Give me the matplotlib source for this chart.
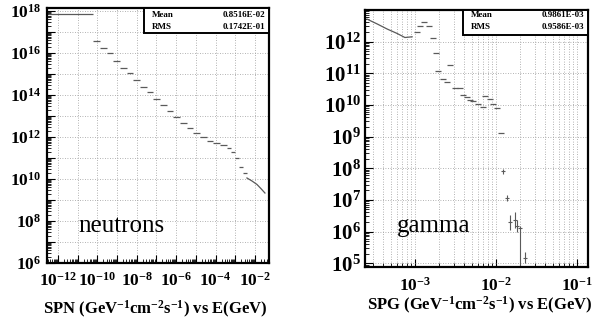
import numpy as np
import matplotlib
matplotlib.use("Agg")
import matplotlib.pyplot as plt
from matplotlib.ticker import LogLocator, FuncFormatter, NullFormatter
from matplotlib.patches import Rectangle

plt.rcParams['font.family'] = 'Liberation Serif'
plt.rcParams['mathtext.fontset'] = 'custom'
plt.rcParams['mathtext.rm'] = 'Liberation Serif:bold'
plt.rcParams['mathtext.bf'] = 'Liberation Serif:bold'
plt.rcParams['mathtext.it'] = 'Liberation Serif:italic:bold'
plt.rcParams['mathtext.default'] = 'bf'

# neutron spectrum: bin edges (GeV) and contents
neut_edges = [3.1e-13, 6.0e-11, 1.35e-10, 3.1e-10, 6.2e-10, 1.4e-9, 3.2e-9, 6.5e-9,
              1.45e-8, 3.3e-8, 6.6e-8, 1.5e-7, 3.4e-7, 6.9e-7, 1.55e-6, 3.5e-6,
              7.1e-6, 1.6e-5, 3.6e-5, 7.4e-5, 1.65e-4, 3.8e-4, 6.0e-4, 9.5e-4,
              1.55e-3, 2.45e-3, 3.9e-3]
neut_flux = [7.2e17, 3.9e16, 1.8e16, 9.8e15, 4.2e15, 2.0e15, 1.07e15, 5.1e14,
             2.5e14, 1.35e14, 6.3e13, 3.3e13, 1.74e13, 9.3e12, 4.5e12, 2.75e12,
             1.5e12, 1.02e12, 6.6e11, 5.4e11, 4.0e11, 2.9e11, 2.0e11, 9.8e10,
             3.9e10, 1.86e10]
neut_tail_e = [3.9e-3, 7.1e-3, 1.26e-2, 2.0e-2, 3.2e-2]
neut_tail_f = [1.12e10, 8.0e9, 5.5e9, 3.5e9, 2.15e9]

# gamma spectrum
gam_line_e = [2.55e-4, 3.4e-4, 4.5e-4, 6.0e-4, 7.5e-4, 9.2e-4]
gam_line_f = [5.1e12, 3.6e12, 2.5e12, 1.8e12, 1.34e12, 1.41e12]
gam_pts_e = [1.06e-3, 1.15e-3, 1.29e-3, 1.49e-3, 1.67e-3, 1.82e-3, 1.92e-3,
             2.22e-3, 2.48e-3, 2.7e-3, 3.1e-3, 3.6e-3, 3.9e-3, 4.4e-3, 4.8e-3,
             5.2e-3, 6.0e-3, 6.9e-3, 7.3e-3, 8.4e-3, 9.2e-3, 1.03e-2, 1.15e-2]
gam_pts_f = [2.07e12, 3.0e12, 4.0e12, 3.1e12, 1.31e12, 4.2e11, 1.15e11,
             6.8e10, 5.2e10, 1.87e11, 3.4e10, 3.3e10, 2.1e10, 1.8e10, 1.46e10,
             1.29e10, 1.09e10, 8.7e9, 1.94e10, 1.54e10, 1.09e10, 8.2e9, 1.32e9]
gam_err_e = [1.22e-2, 1.37e-2, 1.49e-2, 1.72e-2, 1.82e-2, 1.98e-2, 2.28e-2]
gam_err_f = [8.0e7, 1.15e7, 2.0e6, 2.3e6, 1.5e6, 1.3e6, 1.45e5]
gam_err_lo = [6.5e7, 9.5e6, 1.12e6, 1.3e6, 9.8e5, 1e3, 1.0e5]
gam_err_hi = [9.5e7, 1.4e7, 3.4e6, 4.2e6, 2.3e6, 1.5e6, 2.3e5]

W, H = 599, 324
fig = plt.figure(figsize=(W / 100, H / 100), dpi=100)
fig.patch.set_facecolor('white')

data_col = '#5a5a5a'
grid_kw = dict(color='#9a9a9a', linestyle=(0, (1, 2)), linewidth=0.6)


def px_axes(x0, y0, x1, y1):
    return fig.add_axes([x0 / W, 1 - y1 / H, (x1 - x0) / W, (y1 - y0) / H])


def even_fmt(v, pos):
    n = int(round(np.log10(v)))
    return r'$10^{%d}$' % n if n % 2 == 0 else ''


def all_fmt(v, pos):
    return r'$10^{%d}$' % int(round(np.log10(v)))


def style(ax):
    for s in ax.spines.values():
        s.set_linewidth(1.6)
    ax.tick_params(which='both', direction='in', top=False, right=False)
    ax.tick_params(which='major', length=6, width=0.8)
    ax.tick_params(which='minor', length=3, width=0.6)


def stats_box(ax, x0, y0, mean, rms, ym, yr):
    ax.add_patch(Rectangle((x0, y0), 1 - x0, 1 - y0, transform=ax.transAxes,
                           facecolor='white', edgecolor='black', lw=1.4,
                           zorder=5, clip_on=False))
    for y, name, val in [(ym, 'Mean', mean), (yr, 'RMS', rms)]:
        ax.text(x0 + 0.035, y, name, transform=ax.transAxes, fontsize=6.5,
                fontweight='bold', va='center', ha='left', zorder=6)
        ax.text(0.982, y, val, transform=ax.transAxes, fontsize=6.5,
                fontweight='bold', va='center', ha='right', zorder=6)


# ---- neutrons
ax1 = px_axes(47, 8, 269, 263)
ax1.set_xscale('log')
ax1.set_yscale('log')
ax1.set_xlim(2.77e-13, 5.14e-2)
ax1.set_ylim(1e6, 1.39e18)
ax1.hlines(neut_flux, neut_edges[:-1], neut_edges[1:], color=data_col, lw=0.9)
ax1.plot(neut_tail_e, neut_tail_f, color=data_col, lw=0.9)
ax1.xaxis.set_major_locator(LogLocator(base=10, numticks=30))
ax1.yaxis.set_major_locator(LogLocator(base=10, numticks=30))
ax1.xaxis.set_minor_locator(LogLocator(base=10, subs=np.arange(2, 10), numticks=30))
ax1.yaxis.set_minor_locator(LogLocator(base=10, subs=np.arange(2, 10), numticks=30))
ax1.xaxis.set_major_formatter(FuncFormatter(even_fmt))
ax1.yaxis.set_major_formatter(FuncFormatter(even_fmt))
ax1.xaxis.set_minor_formatter(NullFormatter())
ax1.yaxis.set_minor_formatter(NullFormatter())
ax1.tick_params(axis='x', labelsize=12.5, pad=6)
ax1.tick_params(axis='y', labelsize=12.5, pad=4)
ax1.grid(True, which='major', **grid_kw)
style(ax1)
stats_box(ax1, 0.437, 0.902, '0.8516E-02', '0.1742E-01', 0.973, 0.925)

# ---- gamma
ax2 = px_axes(365, 10, 588, 267)
ax2.set_xscale('log')
ax2.set_yscale('log')
ax2.set_xlim(2.41e-4, 0.137)
ax2.set_ylim(7.6e4, 9.9e12)
ax2.plot(gam_line_e, gam_line_f, color=data_col, lw=0.9)
ax2.plot(gam_pts_e, gam_pts_f, ls='none', marker='_', ms=4, mew=0.9, color=data_col)
yerr = [np.array(gam_err_f) - np.array(gam_err_lo), np.array(gam_err_hi) - np.array(gam_err_f)]
ax2.errorbar(gam_err_e, gam_err_f, yerr=yerr, fmt='_', ms=3, mew=0.8,
             color=data_col, elinewidth=0.8, capsize=0)
ax2.xaxis.set_major_locator(LogLocator(base=10, numticks=30))
ax2.yaxis.set_major_locator(LogLocator(base=10, numticks=30))
ax2.xaxis.set_minor_locator(LogLocator(base=10, subs=np.arange(2, 10), numticks=30))
ax2.yaxis.set_minor_locator(LogLocator(base=10, subs=np.arange(2, 10), numticks=30))
ax2.xaxis.set_major_formatter(FuncFormatter(all_fmt))
ax2.yaxis.set_major_formatter(FuncFormatter(all_fmt))
ax2.xaxis.set_minor_formatter(NullFormatter())
ax2.yaxis.set_minor_formatter(NullFormatter())
ax2.tick_params(axis='x', labelsize=12.5, pad=7)
ax2.tick_params(axis='y', labelsize=15, pad=3)
ax2.grid(True, which='major', **grid_kw)
ax2.grid(True, which='minor', axis='x', **grid_kw)
style(ax2)
stats_box(ax2, 0.44, 0.903, '0.9861E-03', '0.9586E-03', 0.98, 0.932)

# labels
fig.text(78 / W, 1 - 232 / H, 'neutrons', fontsize=18, va='baseline', ha='left')
fig.text(397 / W, 1 - 232 / H, 'gamma', fontsize=18, va='baseline', ha='left')
fig.text(155 / W, 1 - 309 / H, r'SPN (GeV$^{-1}$cm$^{-2}$s$^{-1}$) vs E(GeV)',
         fontsize=12, fontweight='bold', ha='center', va='center')
fig.text(480 / W, 1 - 305 / H, r'SPG (GeV$^{-1}$cm$^{-2}$s$^{-1}$) vs E(GeV)',
         fontsize=12, fontweight='bold', ha='center', va='center')

fig.savefig('out.png', dpi=100, facecolor='white')
